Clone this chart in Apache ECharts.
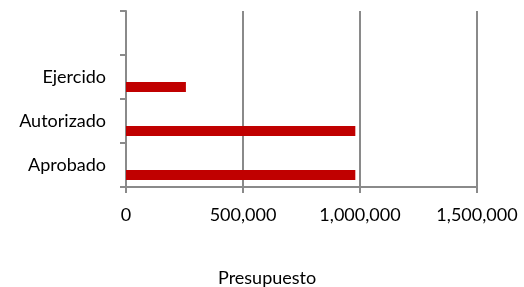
<!DOCTYPE html>
<html>
<head>
<meta charset="utf-8">
<script src="https://cdn.jsdelivr.net/npm/echarts@6/dist/echarts.min.js"></script>
<style>
  html, body { margin: 0; padding: 0; background: #fff; }
  #chart { width: 524px; height: 287px; }
</style>
</head>
<body>
<div id="chart"></div>
<script>
// categorias (la de arriba vacia, como en el original)
var categorias = ["Aprobado", "Autorizado", "Ejercido", ""];
var presupuesto = [980000, 980000, 256000, "-"];
var serieVacia1 = [];
var serieVacia2 = [];
var ticksX = { min: 0, max: 1500000, interval: 500000 };
var tituloX = "Presupuesto";

var chart = echarts.init(document.getElementById("chart"));
var gris = "#8a8a8a";
var fuente = "Lato";

var option = {
  backgroundColor: "#fff",
  animation: false,
  grid: { left: 126, right: 47, top: 11, bottom: 100, containLabel: false },
  xAxis: {
    type: "value",
    min: ticksX.min,
    max: ticksX.max,
    interval: ticksX.interval,
    axisLine: { show: true, lineStyle: { color: gris, width: 2 } },
    axisTick: { show: true, length: 6, lineStyle: { color: gris, width: 2 } },
    splitLine: { show: true, lineStyle: { color: gris, width: 2 } },
    axisLabel: {
      color: "#000",
      fontFamily: fuente,
      fontSize: 18,
      margin: 19,
      formatter: function (v) {
        return v.toLocaleString("en-US");
      },
    },
  },
  yAxis: {
    type: "category",
    data: categorias,
    axisLine: { show: true, lineStyle: { color: gris, width: 2 } },
    axisTick: { show: true, length: 6, lineStyle: { color: gris, width: 2 } },
    axisLabel: {
      color: "#000",
      fontFamily: fuente,
      fontSize: 18,
      margin: 20,
      padding: [5, 0, 0, 0],
    },
  },
  graphic: [
    {
      type: "text",
      left: 218,
      top: 269,
      style: { text: tituloX, fill: "#000", font: "18px " + fuente },
    },
  ],
  // en barras horizontales la ultima serie queda abajo del grupo
  series: [
    { type: "bar", data: serieVacia1, barWidth: 10, barGap: "0%" },
    { type: "bar", data: serieVacia2, barWidth: 10, barGap: "0%" },
    {
      type: "bar",
      data: presupuesto,
      barWidth: 10,
      barGap: "0%",
      itemStyle: { color: "#c00000" },
    },
  ],
};
chart.setOption(option);
</script>
</body>
</html>
